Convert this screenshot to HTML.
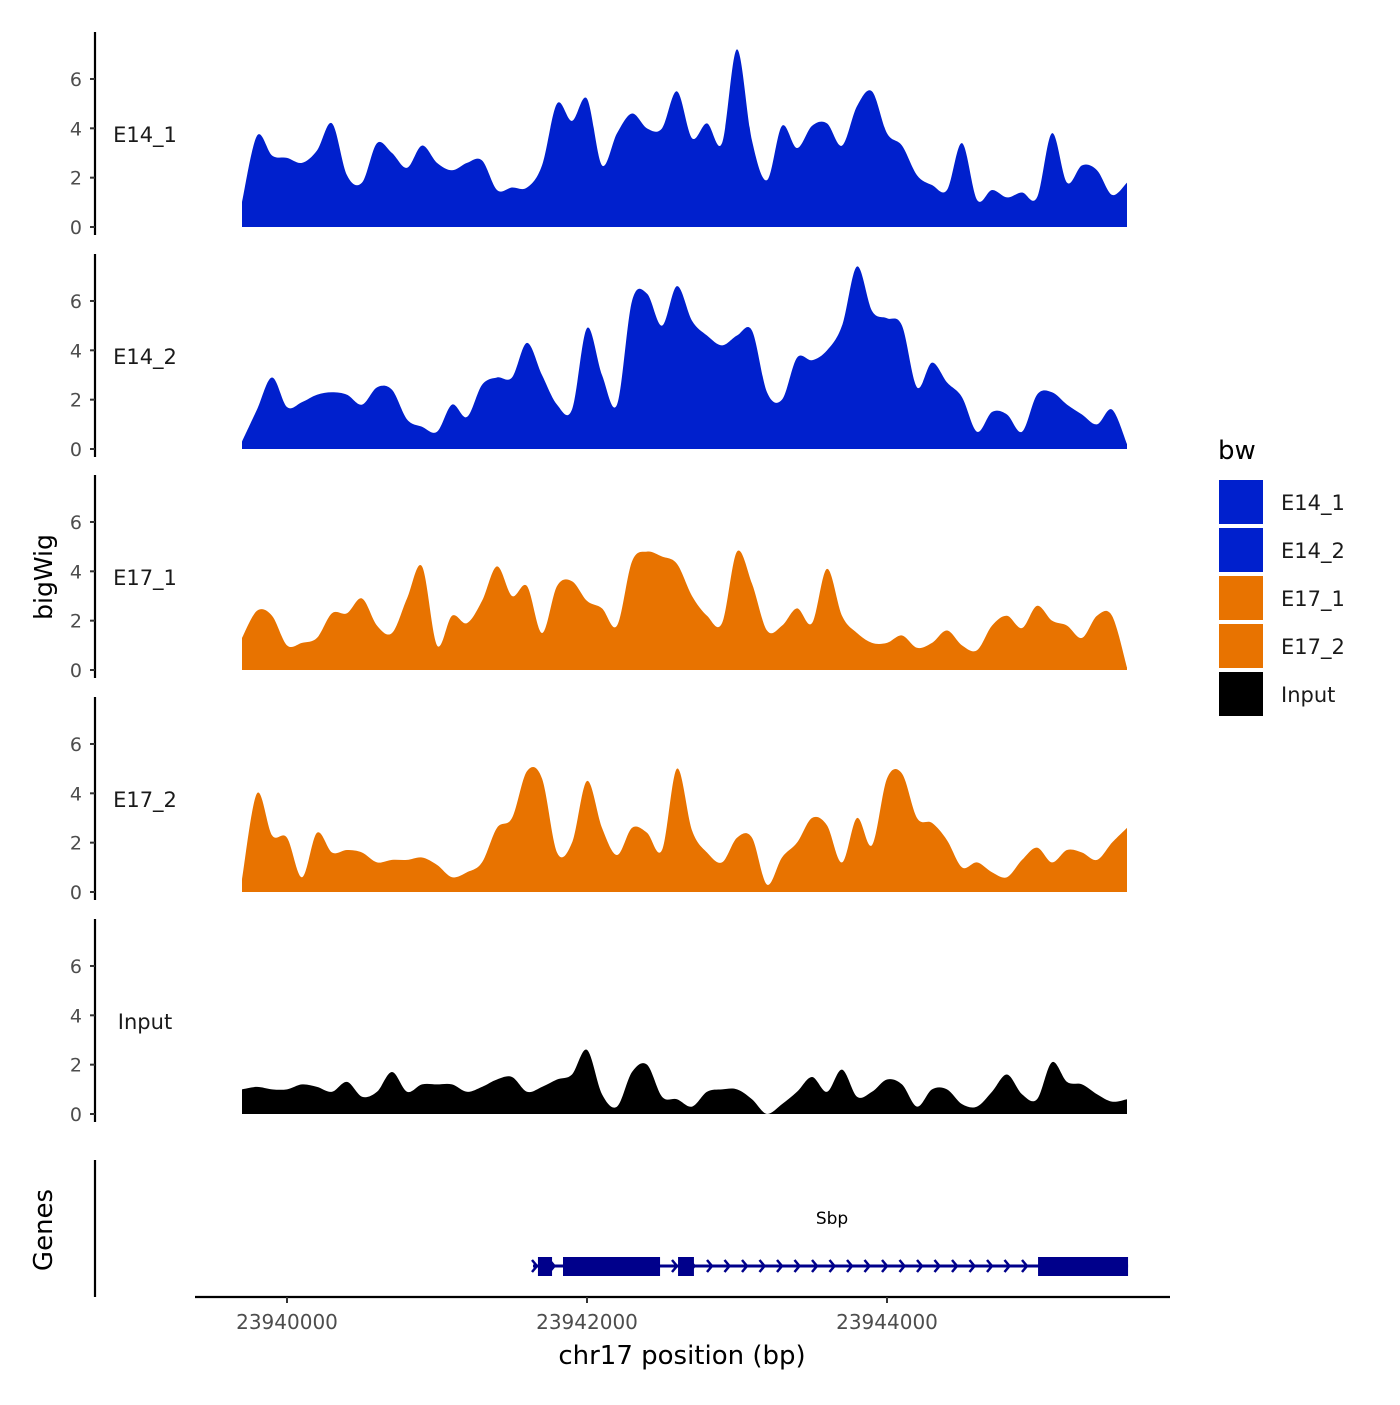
<!DOCTYPE html>
<html><head><meta charset="utf-8"><style>
body{margin:0;background:#fff}
text{font-family:"DejaVu Sans","Liberation Sans",sans-serif}
</style></head><body>
<svg id="chart" width="1400" height="1400" xmlns="http://www.w3.org/2000/svg"></svg>
<script>
const positions = [23939700,23939800,23939900,23940000,23940100,23940200,23940300,23940400,23940500,23940600,23940700,23940800,23940900,23941000,23941100,23941200,23941300,23941400,23941500,23941600,23941700,23941800,23941900,23942000,23942100,23942200,23942300,23942400,23942500,23942600,23942700,23942800,23942900,23943000,23943100,23943200,23943300,23943400,23943500,23943600,23943700,23943800,23943900,23944000,23944100,23944200,23944300,23944400,23944500,23944600,23944700,23944800,23944900,23945000,23945100,23945200,23945300,23945400,23945500,23945600];
const seriesNames = ["E14_1","E14_2","E17_1","E17_2","Input"];
const seriesColors = ["#0020cd","#0020cd","#e87300","#e87300","#000000"];
const e14_1 = [1.0,3.7,2.9,2.8,2.6,3.1,4.2,2.1,1.8,3.4,3.0,2.4,3.3,2.6,2.3,2.6,2.7,1.5,1.6,1.6,2.5,5.0,4.3,5.2,2.5,3.8,4.6,4.0,4.0,5.5,3.6,4.2,3.4,7.2,3.5,1.9,4.1,3.2,4.1,4.2,3.3,4.9,5.5,3.8,3.3,2.1,1.7,1.5,3.4,1.1,1.5,1.2,1.4,1.2,3.8,1.8,2.5,2.3,1.3,1.8];
const e14_2 = [0.3,1.6,2.9,1.7,1.9,2.2,2.3,2.2,1.8,2.5,2.4,1.2,0.9,0.7,1.8,1.3,2.6,2.9,2.9,4.3,3.0,1.8,1.6,4.9,3.0,1.8,6.0,6.3,5.0,6.6,5.2,4.6,4.2,4.6,4.8,2.3,2.0,3.7,3.6,4.0,5.0,7.4,5.6,5.3,5.0,2.5,3.5,2.7,2.1,0.7,1.5,1.4,0.7,2.2,2.3,1.8,1.4,1.0,1.6,0.2];
const e17_1 = [1.3,2.4,2.2,1.0,1.1,1.3,2.3,2.3,2.9,1.8,1.5,2.9,4.2,1.0,2.2,1.9,2.8,4.2,3.0,3.4,1.5,3.4,3.6,2.8,2.5,1.8,4.4,4.8,4.6,4.3,3.0,2.2,1.9,4.8,3.5,1.6,1.8,2.5,1.9,4.1,2.2,1.5,1.1,1.1,1.4,0.9,1.1,1.6,1.0,0.8,1.8,2.2,1.7,2.6,2.0,1.8,1.3,2.2,2.2,0.1];
const e17_2 = [0.5,4.0,2.3,2.2,0.6,2.4,1.6,1.7,1.6,1.2,1.3,1.3,1.4,1.1,0.6,0.8,1.2,2.6,3.0,4.9,4.6,1.6,2.0,4.5,2.6,1.5,2.6,2.4,1.7,5.0,2.5,1.6,1.2,2.2,2.2,0.3,1.4,2.0,3.0,2.7,1.2,3.0,1.9,4.6,4.8,3.0,2.8,2.1,1.0,1.2,0.8,0.6,1.3,1.8,1.2,1.7,1.6,1.3,2.0,2.6];
const input = [1.0,1.1,1.0,1.0,1.2,1.1,0.9,1.3,0.7,0.9,1.7,0.9,1.2,1.2,1.2,0.9,1.1,1.4,1.5,0.9,1.1,1.4,1.6,2.6,0.8,0.3,1.7,2.0,0.7,0.6,0.3,0.9,1.0,1.0,0.6,0.0,0.4,0.9,1.5,0.9,1.8,0.7,0.9,1.4,1.2,0.3,1.0,1.0,0.4,0.3,0.9,1.6,0.8,0.6,2.1,1.3,1.2,0.8,0.5,0.6];
const yTicks = [0,2,4,6];
const xTicks = [23940000,23942000,23944000];
const exonStarts = [23941673,23941840,23942607,23945007];
const exonEnds = [23941767,23942487,23942713,23945607];
const geneStart = 23941640, geneEnd = 23945607;

const NS="http://www.w3.org/2000/svg";
const svg=document.getElementById('chart');
function el(t,a,p){const e=document.createElementNS(NS,t);for(const k in a)e.setAttribute(k,a[k]);(p||svg).appendChild(e);return e;}
const xS = bp => 287 + (bp-23940000)*0.15;
const zeros=[227,449,670,892,1114];
const yS = (v,i) => zeros[i] - v*24.67;
const allData=[e14_1,e14_2,e17_1,e17_2,input];

allData.forEach((vals,i)=>{
  const g=el('g',{});
  
  
  const ax=el('line',{x1:95,x2:95,y1:zeros[i]-195,y2:zeros[i]+8,stroke:'#000','stroke-width':2.2},g);
  
  
  yTicks.forEach(t=>{
    const y=yS(t,i);
    el('line',{x1:90,x2:95,y1:y,y2:y,stroke:'#333','stroke-width':2},g);
    const tx=el('text',{x:82,y:y+7,'text-anchor':'end','font-size':19,fill:'#4d4d4d'},g);
    tx.textContent=t;
    
    
  });
  const pts=vals.map((v,k)=>[xS(positions[k]),yS(v,i)]);
  let d=`M${pts[0][0]},${zeros[i]} L${pts[0][0]},${pts[0][1]}`;
  for(let k=0;k<pts.length-1;k++){
    const p0=pts[Math.max(0,k-1)],p1=pts[k],p2=pts[k+1],p3=pts[Math.min(pts.length-1,k+2)];
    let c1y=p1[1]+(p2[1]-p0[1])/6, c2y=p2[1]-(p3[1]-p1[1])/6;
    c1y=Math.min(c1y,zeros[i]); c2y=Math.min(c2y,zeros[i]);
    d+=` C${p1[0]+(p2[0]-p0[0])/6},${c1y} ${p2[0]-(p3[0]-p1[0])/6},${c2y} ${p2[0]},${p2[1]}`;
  }
  d+=` L${pts[pts.length-1][0]},${zeros[i]} Z`;
  const a=el('path',{d:d,fill:seriesColors[i]},g);
  
  
  const lb=el('text',{x:145,y:zeros[i]-85,'text-anchor':'middle','font-size':21,fill:'#1a1a1a'},g);
  lb.textContent=seriesNames[i];
  
  
});

const yt=el('text',{x:0,y:0,transform:'translate(52,577) rotate(-90)','text-anchor':'middle','font-size':25});
yt.textContent='bigWig';



const ga=el('line',{x1:95,x2:95,y1:1160,y2:1297,stroke:'#000','stroke-width':2.2});


const gt=el('text',{x:0,y:0,transform:'translate(52,1230) rotate(-90)','text-anchor':'middle','font-size':26});
gt.textContent='Genes';


const gene=el('g',{});


el('line',{x1:xS(geneStart),x2:xS(geneEnd),y1:1266,y2:1266,stroke:'#00008b','stroke-width':3},gene);
for(let x=xS(geneStart)+2;x<xS(geneEnd)-5;x+=17.5){
  el('path',{d:`M${x-3},${1260} L${x+2},${1266} L${x-3},${1272}`,fill:'none',stroke:'#00008b','stroke-width':2.5},gene);
}
exonStarts.forEach((s,k)=>{
  const r=el('rect',{x:xS(s),y:1257,width:xS(exonEnds[k])-xS(s),height:19,fill:'#00008b'},gene);
  
  
});
const gl=el('text',{x:832,y:1224,'text-anchor':'middle','font-size':17},gene);
gl.textContent='Sbp';



const xa=el('line',{x1:195,x2:1170,y1:1297,y2:1297,stroke:'#000','stroke-width':2.2});


xTicks.forEach(t=>{
  el('line',{x1:xS(t),x2:xS(t),y1:1297,y2:1303,stroke:'#333','stroke-width':2});
  const tx=el('text',{x:xS(t),y:1329,'text-anchor':'middle','font-size':20,fill:'#4d4d4d'});
  tx.textContent=t;
  
  
});
const xt=el('text',{x:682,y:1364,'text-anchor':'middle','font-size':26});
xt.textContent='chr17 position (bp)';



const lg=el('g',{});


const lt=el('text',{x:1218,y:459,'font-size':26},lg);
lt.textContent='bw';


seriesNames.forEach((n,i)=>{
  const e=el('g',{},lg);
  
  
  el('rect',{x:1219,y:480+i*48,width:44,height:44,fill:seriesColors[i]},e);
  const t=el('text',{x:1281,y:510+i*48,'font-size':21,fill:'#1a1a1a'},e);
  t.textContent=n;
});
</script>
</body></html>
